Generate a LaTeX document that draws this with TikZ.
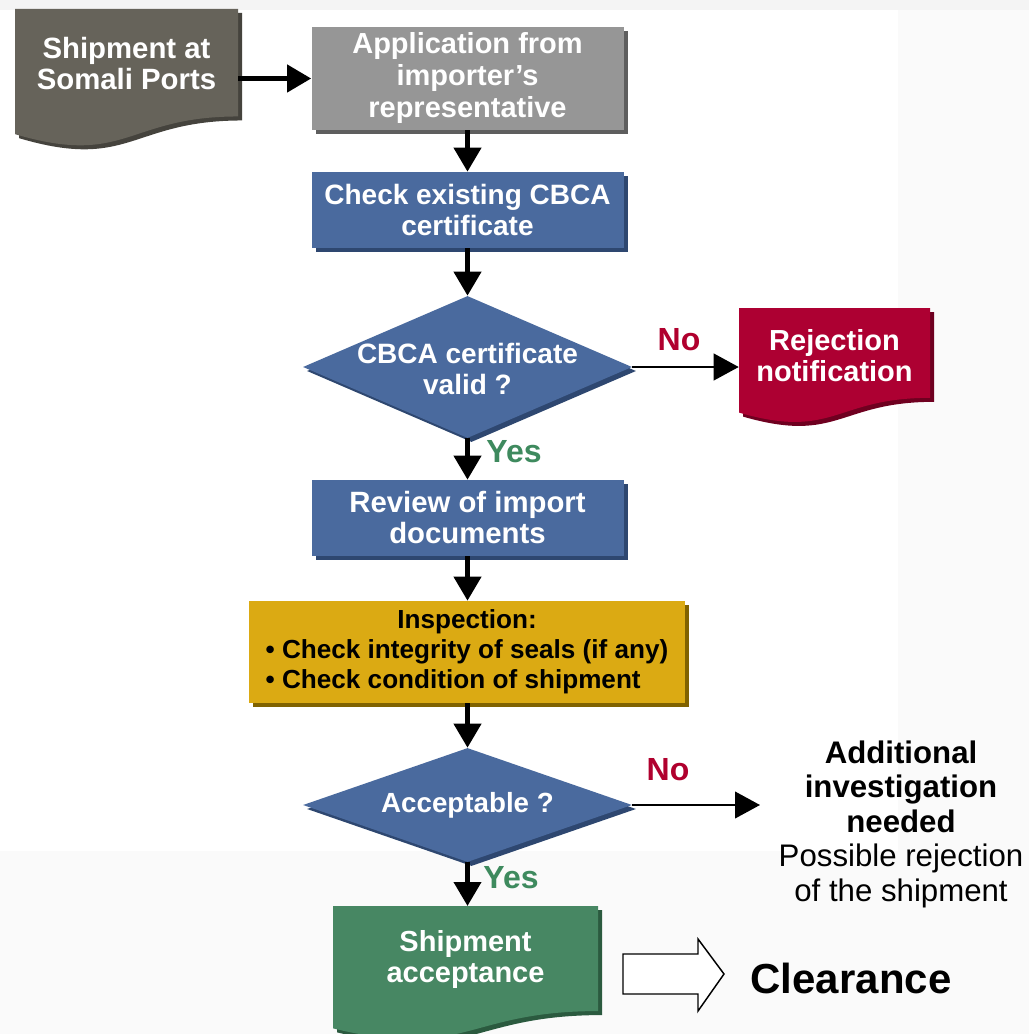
\documentclass[tikz,border=0pt]{standalone}
\usepackage{fontspec}
\setmainfont{Liberation Sans}
\usetikzlibrary{arrows.meta,shapes.geometric,shadows}
\definecolor{bgcol}{HTML}{FAFAFA}
\definecolor{topcol}{HTML}{F4F4F4}
\definecolor{docgray}{HTML}{66635A}
\definecolor{docgrayS}{HTML}{45433D}
\definecolor{appgray}{HTML}{969696}
\definecolor{appgrayS}{HTML}{5E5E5E}
\definecolor{boxblue}{HTML}{4A6A9E}
\definecolor{boxblueS}{HTML}{2E4770}
\definecolor{rejred}{HTML}{AD0032}
\definecolor{rejredS}{HTML}{6F0020}
\definecolor{gold}{HTML}{DBAA13}
\definecolor{goldS}{HTML}{806200}
\definecolor{accgreen}{HTML}{478763}
\definecolor{accgreenS}{HTML}{2B5A3F}
\definecolor{nored}{HTML}{B0002E}
\definecolor{yesgreen}{HTML}{3E8A5E}
\newcommand\fsz[2]{\fontsize{#1}{#2}\selectfont}
% fill, shadow, left, top, right, height
\newcommand\docshape[6]{%
  \fill[#2,xshift=3pt,yshift=-3pt] (#3,#4) -- (#5,#4) -- (#5,{#4+0.802*#6})
    .. controls ({(#3+#5)/2},{#4+0.802*#6}) and ({(#3+#5)/2},{#4+1.18*#6}) .. (#3,{#4+0.934*#6}) -- cycle;
  \fill[#1] (#3,#4) -- (#5,#4) -- (#5,{#4+0.802*#6})
    .. controls ({(#3+#5)/2},{#4+0.802*#6}) and ({(#3+#5)/2},{#4+1.18*#6}) .. (#3,{#4+0.934*#6}) -- cycle;}
\begin{document}
\begin{tikzpicture}[x=0.75pt,y=-0.75pt,
  flowbox/.style={rectangle, inner sep=0pt, align=center, text=white},
  shade3/.style={drop shadow={shadow xshift=3pt,shadow yshift=-3pt,opacity=1,fill=#1}},
  dec/.style={diamond, inner sep=0pt, fill=boxblue, minimum width=246.75pt, shade3=boxblueS},
  dectext/.style={align=center, text=white, font=\bfseries\fsz{21pt}{23.25pt}},
  arr/.style={-{Triangle[length=18pt,width=20pt]}, line width=3.75pt},
  thinarr/.style={-{Triangle[length=18.75pt,width=20pt]}, line width=1.5pt},
  lblno/.style={text=nored, font=\bfseries\fsz{24pt}{28pt}},
  lblyes/.style={text=yesgreen, font=\bfseries\fsz{24pt}{28pt}}]
\useasboundingbox (0,0) rectangle (1029,1034);
\fill[bgcol] (0,0) rectangle (1029,1034);
\fill[topcol] (0,0) rectangle (1029,10);
\fill[white] (0,10) rectangle (898,851);

% document shapes
\docshape{docgray}{docgrayS}{15}{9}{238}{134}
\docshape{rejred}{rejredS}{739}{308}{930}{112}
\docshape{accgreen}{accgreenS}{333}{906}{598}{131}

\node[flowbox, font=\bfseries\fsz{22pt}{23.25pt}, minimum width=167.25pt] (ship) at (126.5,63.5) {Shipment at\\Somali Ports};
\node[flowbox, fill=appgray, shade3=appgrayS, minimum width=234pt, minimum height=77.25pt,
      font=\bfseries\fsz{21.75pt}{24pt}] (app) at (467.5,78.5) {Application from\\importer’s\\representative};
\node[flowbox, fill=boxblue, shade3=boxblueS, minimum width=234pt, minimum height=57pt,
      font=\bfseries\fsz{21pt}{23.25pt}] (chk) at (467.5,210) {Check existing CBCA\\certificate};
\node[dec, minimum height=106.5pt] (d1) at (467.5,367) {};
\node[dectext] (d1t) at (467.5,369) {CBCA certificate\\valid ?};
\node[flowbox, font=\bfseries\fsz{21.75pt}{23.25pt}, minimum width=143.25pt] (rej) at (834.5,355.5) {Rejection\\notification};
\node[flowbox, fill=boxblue, shade3=boxblueS, minimum width=234pt, minimum height=57pt,
      font=\bfseries\fsz{22pt}{23.25pt}] (rev) at (467.5,518) {Review of import\\documents};
\node[rectangle, inner sep=0pt, fill=gold, shade3=goldS, minimum width=327pt, minimum height=76.5pt,
      font=\bfseries\fsz{19.6pt}{22.5pt}] (insp) at (467,652)
      {\begin{tabular}{@{}l@{}}\multicolumn{1}{@{}c@{}}{Inspection:}\\• Check integrity of seals (if any)\\• Check condition of shipment\end{tabular}};
\node[dec, minimum height=85.5pt] (d2) at (467.5,805) {};
\node[dectext, font=\bfseries\fsz{20.8pt}{23.25pt}] (d2t) at (467.5,805) {Acceptable ?};
\node[flowbox, anchor=north, minimum width=198.75pt, minimum height=80.25pt,
      font=\bfseries\fsz{21.75pt}{23.25pt}] (acc) at (465.5,906) {Shipment\\acceptance};
\node[align=center, font=\fsz{23.4pt}{25.9pt}] (addl) at (901,824)
      {\textbf{Additional}\\\textbf{investigation}\\\textbf{needed}\\Possible rejection\\of the shipment};
\node[font=\bfseries\fsz{31.5pt}{36pt}] (clr) at (851,978) {Clearance};

% block arrow
\draw[line width=1.1pt, fill=white, line join=miter] (623,954) -- (698,954) -- (698,939) -- (724,974)
   -- (698,1011) -- (698,994) -- (623,994) -- cycle;

% connectors
\coordinate (noend) at (760,805);
\draw[arr] (ship.east |- app.west) -- (app.west);
\draw[arr] (app.south) -- (chk.north);
\draw[arr] (chk.south) -- (d1.north);
\draw[arr] (d1.south) -- (rev.north);
\draw[arr] (rev.south) -- (insp.north -| rev.south);
\draw[arr] (insp.south -| rev.south) -- (d2.north);
\draw[arr] (d2.south) -- (d2.south |- acc.north);
\draw[thinarr] (d1.east) -- (d1.east -| rej.west);
\draw[thinarr] (d2.east) -- (noend);

% labels
\node[lblno] (no1) at (679,340) {No};
\node[lblno] (no2) at (668,770) {No};
\node[lblyes] (yes1) at (514,452) {Yes};
\node[lblyes] (yes2) at (511,878) {Yes};
\end{tikzpicture}
\end{document}
